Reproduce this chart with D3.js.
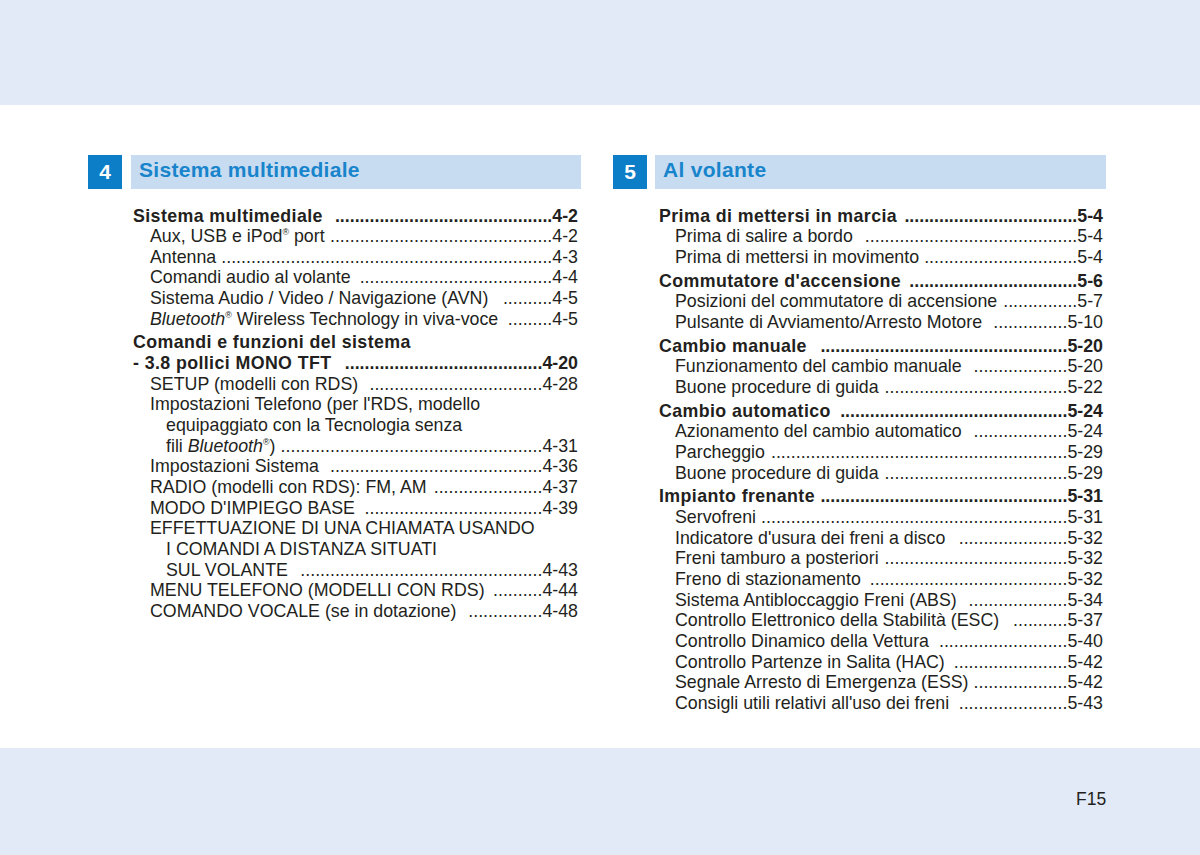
<!DOCTYPE html>
<html>
<head>
<meta charset="utf-8">
<script src="https://cdn.jsdelivr.net/npm/d3@7"></script>
<style>
  body { margin: 0; background: #fff; }
  svg { display: block; font-family: "Liberation Sans", Arial, Helvetica, sans-serif; }
  svg text { white-space: pre; }
</style>
</head>
<body>
<div id="page"></div>
<script>
// Chapter headers
const chapterNumbers = ["4", "5"];
const chapterTitles = ["Sistema multimediale", "Al volante"];

// TOC rows: [level, text, page]
// level 0 = main entry, 1 = main entry continued, 2 = sub entry, 3 = sub entry continued
// "_..._" is italic, "®" is drawn as superscript
const tocLeft = [
  [0, "Sistema multimediale ", "4-2"],
  [2, "Aux, USB e iPod® port", "4-2"],
  [2, "Antenna", "4-3"],
  [2, "Comandi audio al volante", "4-4"],
  [2, "Sistema Audio / Video / Navigazione (AVN) ", "4-5"],
  [2, "_Bluetooth_® Wireless Technology in viva-voce", "4-5"],
  [0, "Comandi e funzioni del sistema", ""],
  [1, "- 3.8 pollici MONO TFT ", "4-20"],
  [2, "SETUP (modelli con RDS) ", "4-28"],
  [2, "Impostazioni Telefono (per l'RDS, modello", ""],
  [3, "equipaggiato con la Tecnologia senza", ""],
  [3, "fili _Bluetooth_®)", "4-31"],
  [2, "Impostazioni Sistema ", "4-36"],
  [2, "RADIO (modelli con RDS): FM, AM", "4-37"],
  [2, "MODO D'IMPIEGO BASE", "4-39"],
  [2, "EFFETTUAZIONE DI UNA CHIAMATA USANDO", ""],
  [3, "I COMANDI A DISTANZA SITUATI", ""],
  [3, "SUL VOLANTE ", "4-43"],
  [2, "MENU TELEFONO (MODELLI CON RDS)", "4-44"],
  [2, "COMANDO VOCALE (se in dotazione) ", "4-48"]
];

const tocRight = [
  [0, "Prima di mettersi in marcia", "5-4"],
  [2, "Prima di salire a bordo ", "5-4"],
  [2, "Prima di mettersi in movimento", "5-4"],
  [0, "Commutatore d'accensione", "5-6"],
  [2, "Posizioni del commutatore di accensione", "5-7"],
  [2, "Pulsante di Avviamento/Arresto Motore ", "5-10"],
  [0, "Cambio manuale ", "5-20"],
  [2, "Funzionamento del cambio manuale ", "5-20"],
  [2, "Buone procedure di guida", "5-22"],
  [0, "Cambio automatico", "5-24"],
  [2, "Azionamento del cambio automatico ", "5-24"],
  [2, "Parcheggio", "5-29"],
  [2, "Buone procedure di guida", "5-29"],
  [0, "Impianto frenante", "5-31"],
  [2, "Servofreni", "5-31"],
  [2, "Indicatore d'usura dei freni a disco ", "5-32"],
  [2, "Freni tamburo a posteriori", "5-32"],
  [2, "Freno di stazionamento", "5-32"],
  [2, "Sistema Antibloccaggio Freni (ABS) ", "5-34"],
  [2, "Controllo Elettronico della Stabilità (ESC) ", "5-37"],
  [2, "Controllo Dinamico della Vettura ", "5-40"],
  [2, "Controllo Partenze in Salita (HAC)", "5-42"],
  [2, "Segnale Arresto di Emergenza (ESS)", "5-42"],
  [2, "Consigli utili relativi all'uso dei freni", "5-43"]
];

const pageLabel = "F15";

const width = 1200;
const height = 855;
const colors = {
  band: "#e1eaf6",
  bar: "#c7dcf1",
  box: "#0c7dc7",
  title: "#1884cb",
  text: "#231f20"
};

const svg = d3.select("#page")
  .append("svg")
  .attr("width", width)
  .attr("height", height);

// top and bottom bands
svg.append("rect").attr("x", 0).attr("y", 0).attr("width", width).attr("height", 105).attr("fill", colors.band);
svg.append("rect").attr("x", 0).attr("y", 748).attr("width", width).attr("height", height - 748).attr("fill", colors.band);

// columns: x positions of box, bar, text levels and right edge
const columns = [
  { box: 88, bar: 131, barEnd: 581, x0: 133, x1: 150, x2: 166, right: 578, rows: tocLeft },
  { box: 613, bar: 655, barEnd: 1106, x0: 659, x1: 675, x2: 691, right: 1103, rows: tocRight }
];

// row index -> baseline
const y = d3.scaleLinear().domain([0, 1]).range([221.5, 242.15]);
const boldGap = 0.15;

// append a label with italic parts and superscript ®
function appendRich(textSel, str) {
  const parts = str.split("_");
  let lift = false;
  parts.forEach((p, i) => {
    const italic = i % 2 == 1;
    const bits = p.split("®");
    bits.forEach((b, j) => {
      if (b.length) {
        const t = textSel.append("tspan").text(b);
        if (italic) t.attr("font-style", "italic");
        if (lift) { t.attr("dy", "0.375em"); lift = false; }
      }
      if (j < bits.length - 1) {
        textSel.append("tspan")
          .attr("font-size", "0.5em")
          .attr("dy", "-0.75em")
          .text("®");
        lift = true;
      }
    });
  });
}

columns.forEach((col, ci) => {
  // header
  svg.append("rect")
    .attr("x", col.box).attr("y", 155).attr("width", 34).attr("height", 34)
    .attr("fill", colors.box);
  svg.append("text")
    .attr("x", col.box + 17).attr("y", 179)
    .attr("text-anchor", "middle")
    .attr("font-size", 21).attr("font-weight", "bold")
    .attr("fill", "#fff")
    .text(chapterNumbers[ci]);
  svg.append("rect")
    .attr("x", col.bar).attr("y", 155).attr("width", col.barEnd - col.bar).attr("height", 34)
    .attr("fill", colors.bar);
  svg.append("text")
    .attr("x", col.bar + 8).attr("y", 177)
    .attr("font-size", 21).attr("font-weight", "bold")
    .attr("letter-spacing", 0.3)
    .attr("fill", colors.title)
    .text(chapterTitles[ci]);

  // rows
  let pos = 0;
  const rowsData = col.rows.map((r, i) => {
    if (i > 0) pos += 1;
    if (i > 0 && r[0] == 0) pos += boldGap;
    return { level: r[0], text: r[1], page: r[2], pos: pos };
  });

  const g = svg.append("g").attr("fill", colors.text);

  const rowG = g.selectAll("g.row")
    .data(rowsData)
    .enter()
    .append("g")
    .attr("class", "row")
    .attr("font-size", 17.8)
    .attr("font-weight", d => d.level < 2 ? "bold" : "normal");

  rowG.each(function (d) {
    const sel = d3.select(this);
    const xs = [col.x0, col.x0, col.x1, col.x2];
    const label = sel.append("text")
      .attr("x", xs[d.level])
      .attr("y", y(d.pos))
      .attr("letter-spacing", d.level < 2 ? 0.4 : 0);
    appendRich(label, d.text);
    if (!d.page) return;

    const labelEnd = xs[d.level] + label.node().getComputedTextLength();
    const pg = sel.append("text")
      .attr("x", col.right).attr("y", y(d.pos))
      .attr("text-anchor", "end")
      .text(d.page);
    const pageStart = col.right - pg.node().getComputedTextLength();

    const probe = sel.append("text").attr("y", y(d.pos)).text("..........");
    const dotW = probe.node().getComputedTextLength() / 10;
    probe.remove();
    const n = Math.max(1, Math.floor((pageStart - labelEnd - dotW) / dotW));
    sel.append("text")
      .attr("x", pageStart).attr("y", y(d.pos))
      .attr("text-anchor", "end")
      .text(".".repeat(n));
  });
});

// page number
svg.append("text")
  .attr("x", 1076).attr("y", 805)
  .attr("font-size", 17.5)
  .attr("fill", colors.text)
  .text(pageLabel);
</script>
</body>
</html>
